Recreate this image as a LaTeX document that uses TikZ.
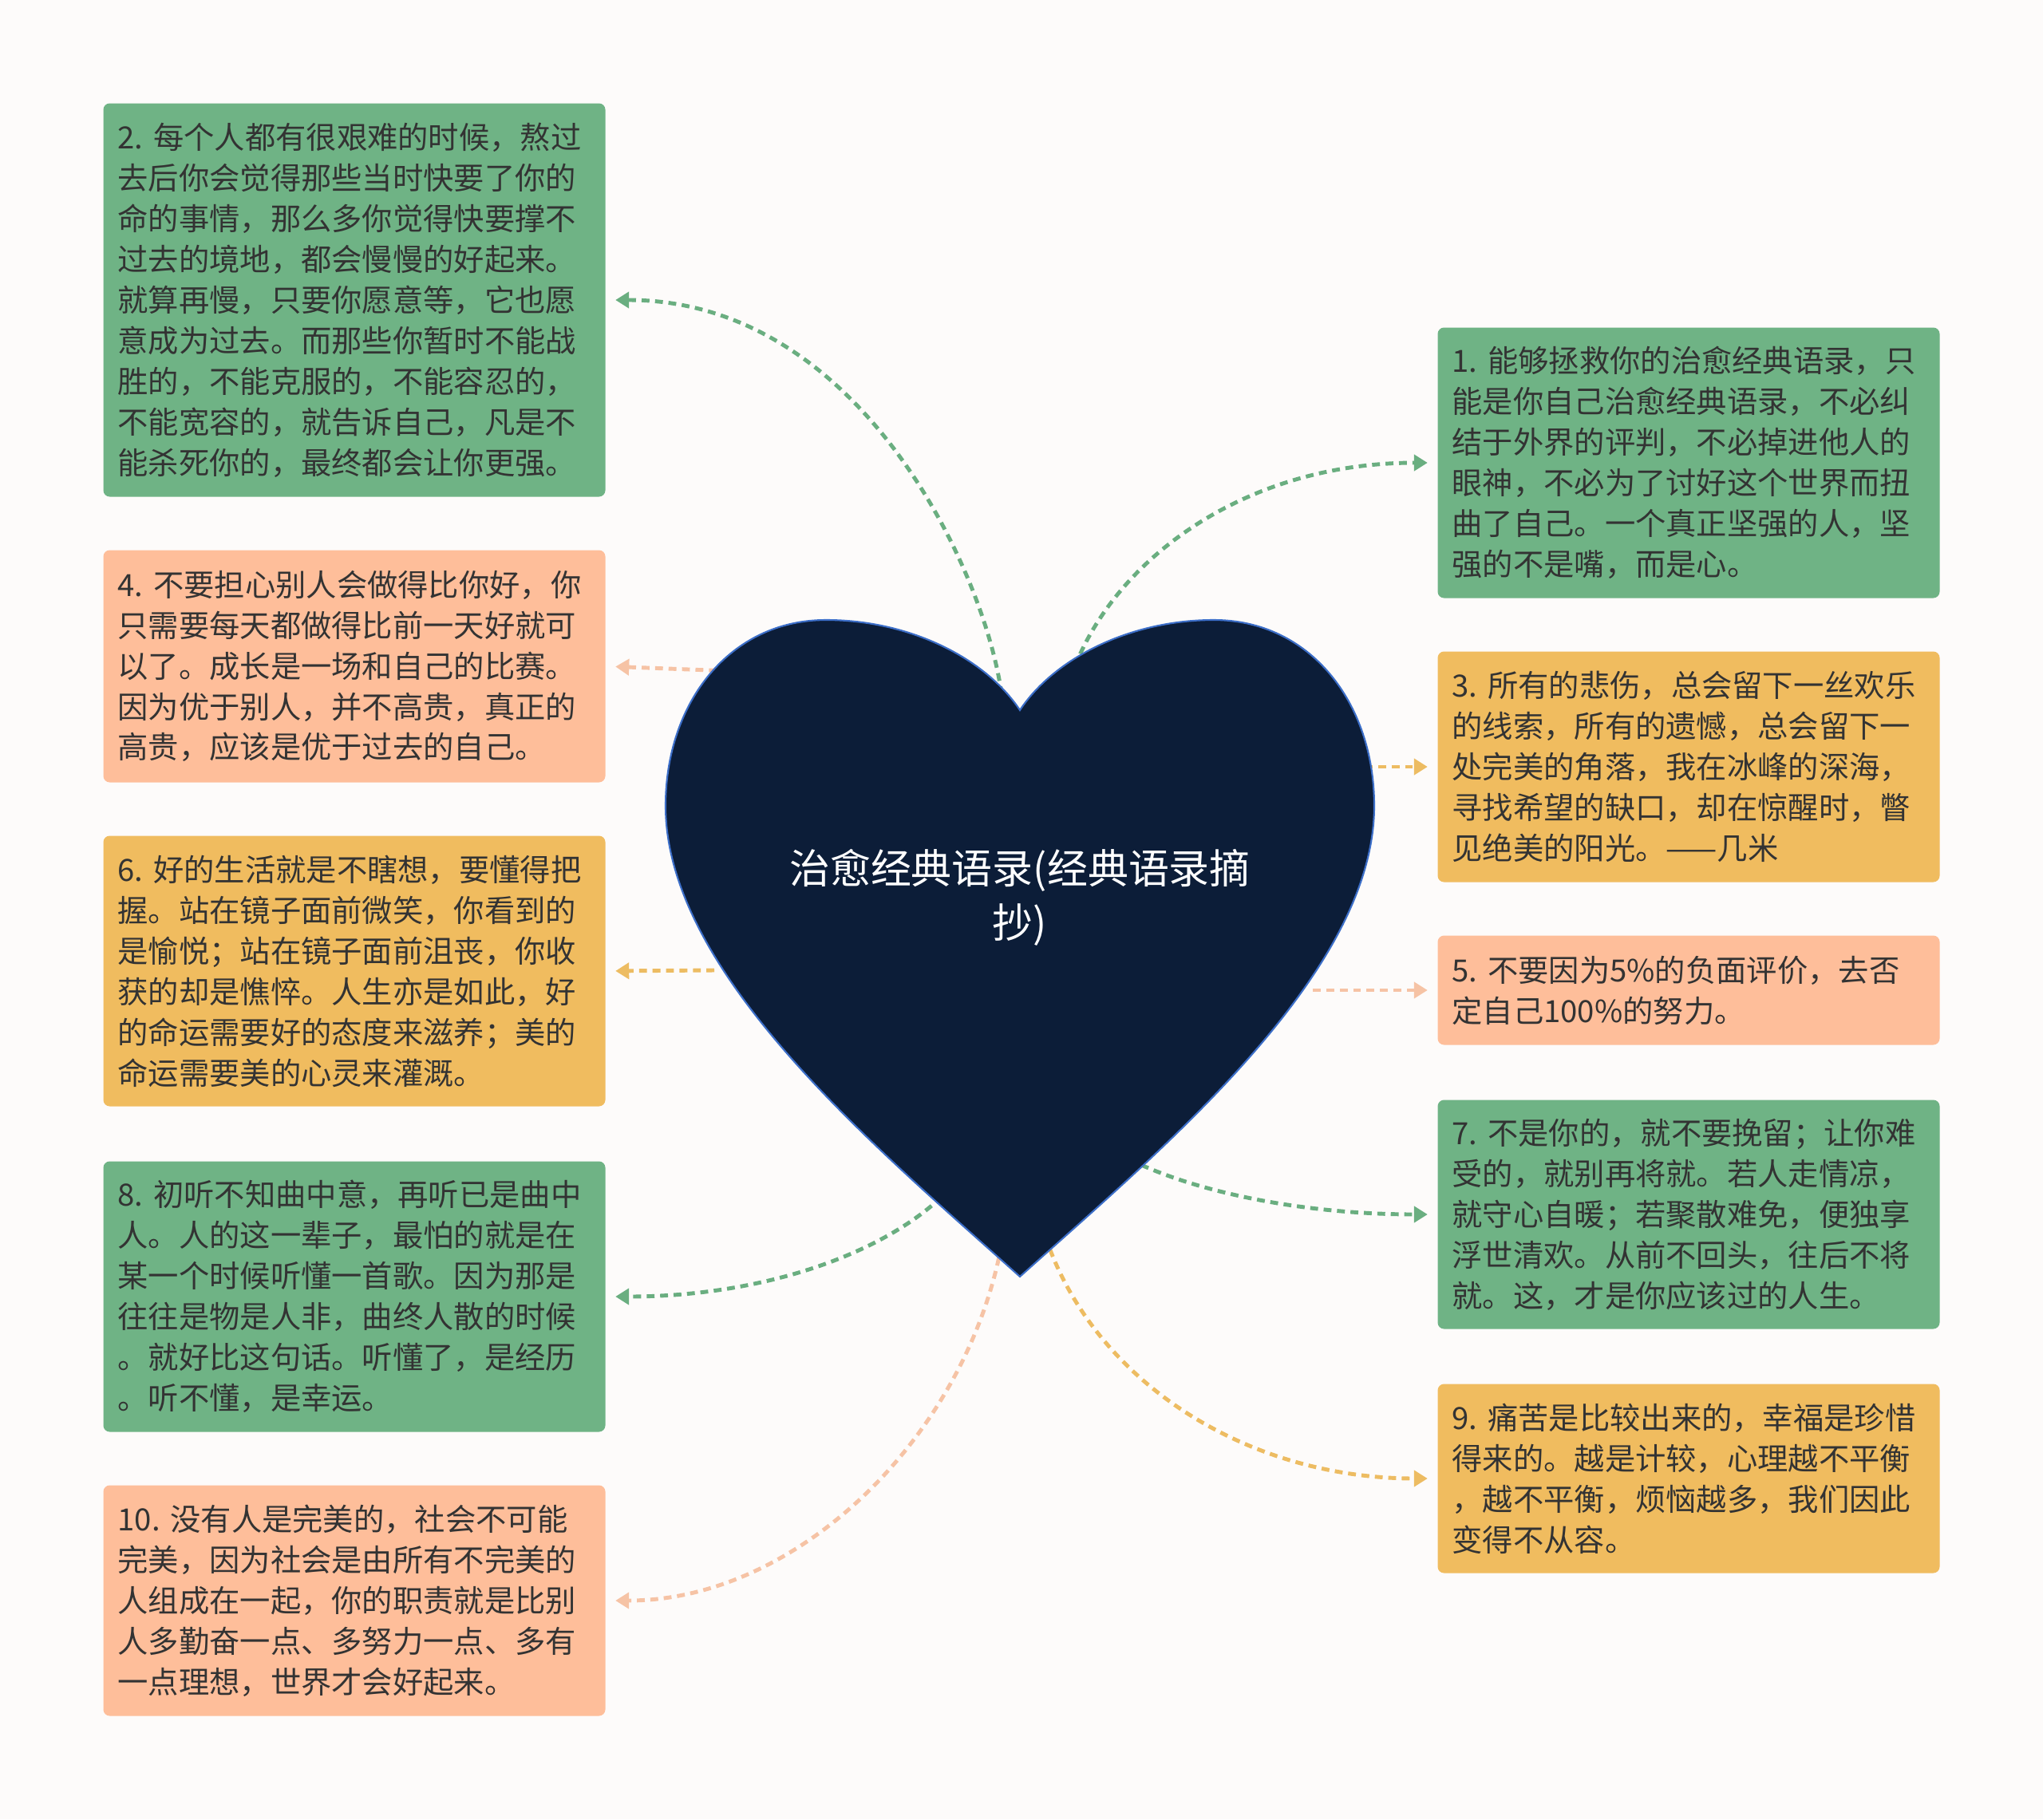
\documentclass[tikz,border=0pt]{standalone}
\usepackage{fontspec}
\setmainfont{Noto Sans CJK SC}
\usetikzlibrary{arrows.meta}

\definecolor{bgpaper}{HTML}{FDFBFA}
\definecolor{txtdark}{HTML}{333333}
\definecolor{qgreen}{HTML}{6FB385}
\definecolor{qpeach}{HTML}{FEBE9A}
\definecolor{qgold}{HTML}{F0BC5F}
\definecolor{lgreen}{HTML}{6AAE80}
\definecolor{lpeach}{HTML}{F6C3A5}
\definecolor{lgold}{HTML}{EDBC62}
\definecolor{heartnavy}{HTML}{0C1D38}
\definecolor{heartedge}{HTML}{3C6EC8}

\begin{document}
\begin{tikzpicture}[
      >=Latex,
      quote/.style={rounded corners=0.08cm, minimum width=6.29cm, text width=5.93cm,
        inner xsep=0.18cm, inner ysep=0.1cm, align=left, text=txtdark,
        font={\fontsize{10.9pt}{14.5pt}\selectfont}},
      greenq/.style={quote, fill=qgreen},
      peachq/.style={quote, fill=qpeach},
      goldq/.style={quote, fill=qgold},
      title/.style={align=center, text=white, font={\fontsize{14.5pt}{19.3pt}\selectfont}},
      link/.style={-{Triangle[length=0.17cm, width=0.2cm]}, line width=1.4pt,
        dash pattern=on 2.8pt off 2pt, shorten >=0.12cm}
    ]

    % Page
    \fill[bgpaper] (0,0) rectangle (25.6,-22.8);
    \useasboundingbox (0,0) rectangle (25.6,-22.8);

    % Left column
    \node[greenq, minimum height=4.93cm] (q2) at (4.44,-3.76) {2.~每个人都有很艰难的时候，熬过\\
      去后你会觉得那些当时快要了你的\\命的事情，那么多你觉得快要撑不\\
      过去的境地，都会慢慢的好起来。\\就算再慢，只要你愿意等，它也愿\\
      意成为过去。而那些你暂时不能战\\胜的，不能克服的，不能容忍的，\\
      不能宽容的，就告诉自己，凡是不\\能杀死你的，最终都会让你更强。};
    \node[peachq, minimum height=2.91cm] (q4) at (4.44,-8.35) {4.~不要担心别人会做得比你好，你\\
      只需要每天都做得比前一天好就可\\以了。成长是一场和自己的比赛。\\
      因为优于别人，并不高贵，真正的\\高贵，应该是优于过去的自己。};
    \node[goldq, minimum height=3.39cm] (q6) at (4.44,-12.17) {6.~好的生活就是不瞎想，要懂得把\\
      握。站在镜子面前微笑，你看到的\\是愉悦；站在镜子面前沮丧，你收\\
      获的却是憔悴。人生亦是如此，好\\的命运需要好的态度来滋养；美的\\
      命运需要美的心灵来灌溉。};
    \node[greenq, minimum height=3.39cm] (q8) at (4.44,-16.25) {8.~初听不知曲中意，再听已是曲中\\
      人。人的这一辈子，最怕的就是在\\某一个时候听懂一首歌。因为那是\\
      往往是物是人非，曲终人散的时候\\。就好比这句话。听懂了，是经历\\
      。听不懂，是幸运。};
    \node[peachq, minimum height=2.89cm] (q10) at (4.44,-20.06) {10.~没有人是完美的，社会不可能\\
      完美，因为社会是由所有不完美的\\人组成在一起，你的职责就是比别\\
      人多勤奋一点、多努力一点、多有\\一点理想，世界才会好起来。};

    % Right column
    \node[greenq, minimum height=3.39cm] (q1) at (21.16,-5.80) {1.~能够拯救你的治愈经典语录，只\\
      能是你自己治愈经典语录，不必纠\\结于外界的评判，不必掉进他人的\\
      眼神，不必为了讨好这个世界而扭\\曲了自己。一个真正坚强的人，坚\\
      强的不是嘴，而是心。};
    \node[goldq, minimum height=2.89cm] (q3) at (21.16,-9.61) {3.~所有的悲伤，总会留下一丝欢乐\\
      的线索，所有的遗憾，总会留下一\\处完美的角落，我在冰峰的深海，\\
      寻找希望的缺口，却在惊醒时，瞥\\见绝美的阳光。——几米};
    \node[peachq, minimum height=1.37cm] (q5) at (21.16,-12.41) {5.~不要因为5\%的负面评价，去否\\
      定自己100\%的努力。};
    \node[greenq, minimum height=2.87cm] (q7) at (21.16,-15.22) {7.~不是你的，就不要挽留；让你难\\
      受的，就别再将就。若人走情凉，\\就守心自暖；若聚散难免，便独享\\
      浮世清欢。从前不回头，往后不将\\就。这，才是你应该过的人生。};
    \node[goldq, minimum height=2.37cm] (q9) at (21.16,-18.53) {9.~痛苦是比较出来的，幸福是珍惜\\
      得来的。越是计较，心理越不平衡\\，越不平衡，烦恼越多，我们因此\\
      变得不从容。};

    % Link roots, hidden under the heart
    \coordinate (h1) at (13.47,-8.35);
    \coordinate (h2) at (12.55,-8.70);
    \coordinate (h3) at (17.10,-9.61);
    \coordinate (h4) at (9.15,-8.41);
    \coordinate (h5) at (16.45,-12.41);
    \coordinate (h6) at (8.95,-12.16);
    \coordinate (h7) at (14.30,-14.60);
    \coordinate (h8) at (11.80,-15.00);
    \coordinate (h9) at (13.10,-15.50);
    \coordinate (h10) at (12.55,-15.60);

    \draw[link, lgreen] (h2) .. controls (12.35,-7.20) and (10.80,-3.76) .. (q2.east);
    \draw[link, lgreen] (h1) .. controls (14.00,-7.00) and (15.60,-5.80) .. (q1.west);
    \draw[link, lpeach] (h4) -- (q4.east);
    \draw[link, lgold] (h3) -- (q3.west);
    \draw[link, lgold] (h6) -- (q6.east);
    \draw[link, lpeach] (h5) -- (q5.west);
    \draw[link, lgreen] (h8) .. controls (11.00,-15.75) and (9.50,-16.25) .. (q8.east);
    \draw[link, lgreen] (h7) .. controls (15.20,-15.00) and (16.50,-15.22) .. (q7.west);
    \draw[link, lpeach] (h10) .. controls (12.10,-18.00) and (10.00,-20.06) .. (q10.east);
    \draw[link, lgold] (h9) .. controls (13.70,-17.30) and (15.60,-18.53) .. (q9.west);

    % Heart
    \filldraw[fill=heartnavy, draw=heartedge, line width=0.6pt]
      (12.78,-8.90) .. controls (12.35,-8.25) and (11.40,-7.77) .. (10.35,-7.77)
      .. controls (9.15,-7.77) and (8.34,-8.80) .. (8.34,-10.10)
      .. controls (8.34,-12.20) and (11.00,-14.40) .. (12.78,-16.00)
      .. controls (14.56,-14.40) and (17.22,-12.20) .. (17.22,-10.10)
      .. controls (17.22,-8.80) and (16.41,-7.77) .. (15.21,-7.77)
      .. controls (14.16,-7.77) and (13.21,-8.25) .. (12.78,-8.90) -- cycle;
    \node[title] (root) at (12.78,-11.25) {治愈经典语录(经典语录摘\\抄)};
  \end{tikzpicture}
\end{document}
